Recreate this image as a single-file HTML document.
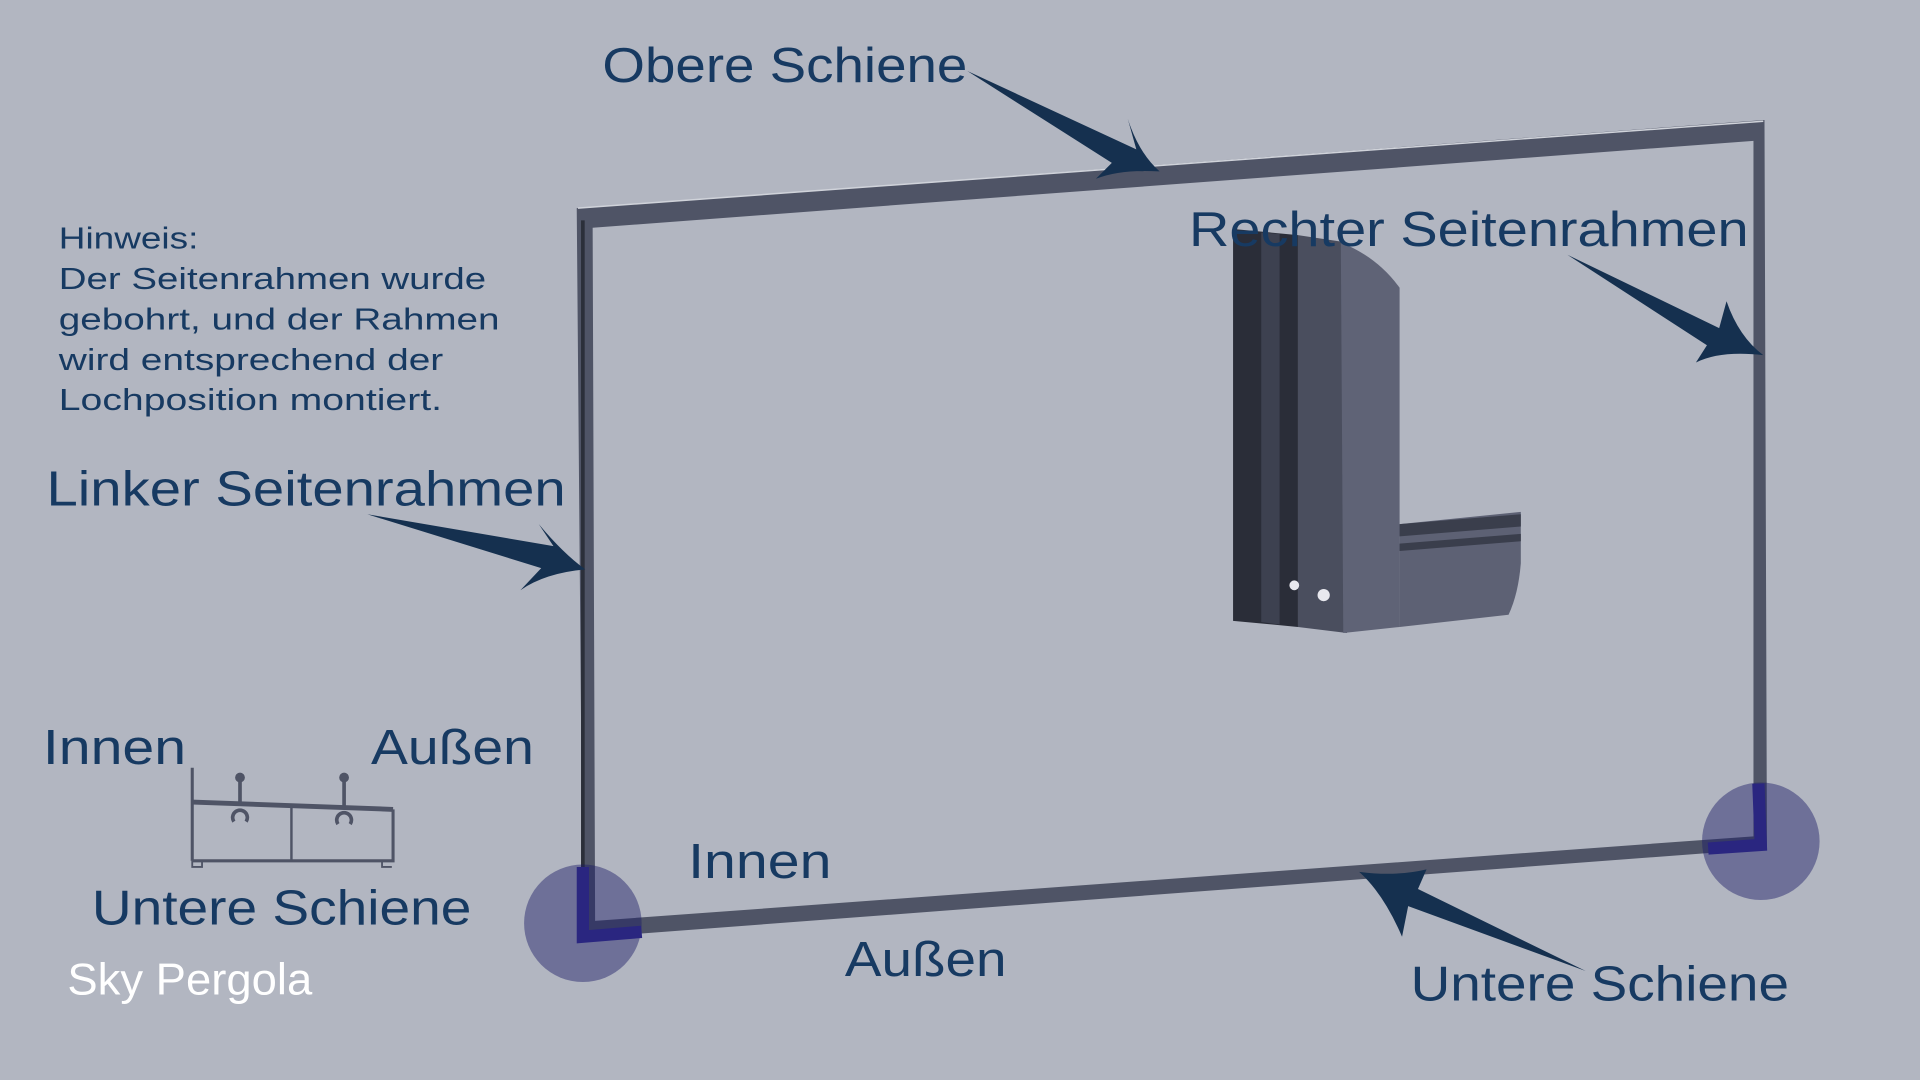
<!DOCTYPE html>
<html><head><meta charset="utf-8"><style>
html,body{margin:0;padding:0;background:#b2b6c1;}
svg{display:block}
text{font-family:"Liberation Sans",sans-serif;fill:#173a62}
</style></head><body>
<svg width="1920" height="1080" viewBox="0 0 1568 882" xmlns="http://www.w3.org/2000/svg">
<rect width="1568" height="882" fill="#b2b6c1"/>
<!-- frame -->
<path fill-rule="evenodd" fill="#4f5466" d="M471,170 L1441,98 L1443,693 L476,766 Z M484,186 L1432,115 L1432,683 L486,752 Z"/>
<path d="M472,170 L1440,99" stroke="#d0d3da" stroke-width="1.2" fill="none"/>
<path d="M476,180 L476,762" stroke="#2b2f3a" stroke-width="3" fill="none"/>
<!-- corner circles -->
<circle cx="476" cy="754" r="48" fill="#1a1a66" opacity="0.45"/>
<circle cx="1438" cy="687" r="48" fill="#1a1a66" opacity="0.45"/>
<path d="M476,708 L476,765 L524,761" stroke="#2a2680" stroke-width="10" fill="none"/>
<path d="M1436,640 L1438,690 L1395,693" stroke="#2a2680" stroke-width="10" fill="none"/>
<!-- L profile -->
<path fill="#2a2d38" d="M1007,187 L1060,192 L1060,512 L1007,507 Z"/>
<path fill="#3d4150" d="M1030,190 L1045,191 L1045,510 L1030,508 Z"/>
<path fill="#4a4e5e" d="M1060,192 L1100,198 L1100,517 L1060,512 Z"/>
<path fill="#5f6376" d="M1095,198 Q1125,210 1143,235 L1143,512 L1097,517 Z"/>
<path fill="#5d6174" d="M1143,428 L1242,418 L1242,460 Q1240,485 1232,502 L1143,512 Z"/>
<path fill="#3a3e4c" d="M1143,428 L1242,420 L1242,430 L1143,438 Z M1143,444 L1242,436 L1242,442 L1143,450 Z"/>
<circle cx="1081" cy="486" r="5" fill="#e8e8ee"/>
<circle cx="1057" cy="478" r="4" fill="#e8e8ee"/>
<!-- arrows -->
<g fill="#15304f">
<path d="M790,58 L928,122 L921,97 Q930,125 947,140 Q915,138 895,146 L908,133 Z"/>
<path d="M1280,208 L1404,268 L1410,246 Q1420,275 1440,290 Q1405,286 1385,296 L1394,282 Z"/>
<path d="M300,420 L452,446 L440,428 Q460,452 478,465 Q445,468 425,482 L442,464 Z"/>
<path d="M1295,793 L1158,726 L1165,710 Q1140,716 1110,712 Q1130,730 1145,765 L1150,740 Z"/>
</g>
<!-- texts -->
<g style="font-size:40px">
<text x="492" y="67" textLength="298" lengthAdjust="spacingAndGlyphs">Obere Schiene</text>
<text x="971" y="201" textLength="457" lengthAdjust="spacingAndGlyphs">Rechter Seitenrahmen</text>
<text x="38" y="413" textLength="424" lengthAdjust="spacingAndGlyphs">Linker Seitenrahmen</text>
<text x="35" y="624" textLength="117" lengthAdjust="spacingAndGlyphs">Innen</text>
<text x="303" y="624" textLength="133" lengthAdjust="spacingAndGlyphs">Außen</text>
<text x="75" y="755" textLength="310" lengthAdjust="spacingAndGlyphs">Untere Schiene</text>
<text x="562" y="717" textLength="117" lengthAdjust="spacingAndGlyphs">Innen</text>
<text x="690" y="797" textLength="132" lengthAdjust="spacingAndGlyphs">Außen</text>
<text x="1152" y="817" textLength="309" lengthAdjust="spacingAndGlyphs">Untere Schiene</text>
</g>
<g style="font-size:25px">
<text x="48" y="203" textLength="114" lengthAdjust="spacingAndGlyphs">Hinweis:</text>
<text x="48" y="236" textLength="349" lengthAdjust="spacingAndGlyphs">Der Seitenrahmen wurde</text>
<text x="48" y="269" textLength="360" lengthAdjust="spacingAndGlyphs">gebohrt, und der Rahmen</text>
<text x="48" y="302" textLength="314" lengthAdjust="spacingAndGlyphs">wird entsprechend der</text>
<text x="48" y="335" textLength="313" lengthAdjust="spacingAndGlyphs">Lochposition montiert.</text>
</g>
<text x="55" y="812" font-size="36" textLength="200" lengthAdjust="spacingAndGlyphs" style="fill:#ffffff">Sky Pergola</text>
<!-- small profile -->
<g stroke="#4f5466" fill="none" stroke-width="2.5">
<path d="M157,627 L157,703"/>
<path d="M157,655 L321,661" stroke-width="4"/>
<path d="M157,703 L321,703 L321,661"/>
<path d="M238,657 L238,703" stroke-width="2"/>
<path d="M196,637 L196,657 M281,637 L281,660" stroke-width="3"/>
<path d="M191,671 A6,6 0 1 1 201,671 M276,673 A6,6 0 1 1 286,673" stroke-width="3"/>
<path d="M157,703 L157,708 L165,708 L165,703 M312,703 L312,708 L320,708" stroke-width="1.5"/>
</g>
<circle cx="196" cy="635" r="4" fill="#4f5466"/>
<circle cx="281" cy="635" r="4" fill="#4f5466"/>
</svg>
</body></html>
